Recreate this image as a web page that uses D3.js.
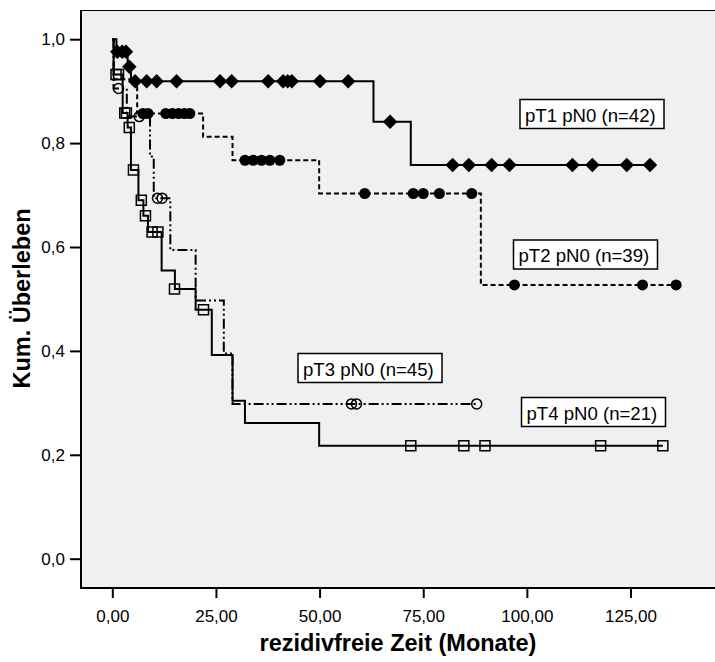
<!DOCTYPE html>
<html>
<head>
<meta charset="utf-8">
<script src="https://cdnjs.cloudflare.com/ajax/libs/d3/7.8.5/d3.min.js"></script>
<style>
	body { margin: 0; background: #fff; }
	text { font-family: Arial, "Liberation Sans", sans-serif; }
</style>
</head>
<body>
<script>

// ticks
var xTicks = [0, 25, 50, 75, 100, 125];
var yTicks = [0, 0.2, 0.4, 0.6, 0.8, 1.0];

// group labels
var groups = ["pT1 pN0 (n=42)", "pT2 pN0 (n=39)", "pT3 pN0 (n=45)", "pT4 pN0 (n=21)"];

// step points [month, survival] for each group
var pt1Steps = [[0, 1.0], [1.0, 0.976], [3.7, 0.947], [4.5, 0.919], [63, 0.841], [72, 0.758]];
var pt2Steps = [[0, 1.0], [0.4, 0.923], [6, 0.857], [21.9, 0.812], [29, 0.767], [49.9, 0.703], [88.9, 0.527]];
var pt3Steps = [[0, 1.0], [0.3, 0.905], [3.5, 0.851], [9.1, 0.774], [10, 0.694], [14, 0.594], [20.1, 0.497],
	[26.9, 0.395], [29, 0.298]];
var pt4Steps = [[0, 1.0], [0.3, 0.932], [2.5, 0.858], [3.7, 0.83], [4.5, 0.748], [6.3, 0.69], [7.5, 0.66],
	[8.6, 0.629], [11.9, 0.555], [15.1, 0.519], [20.1, 0.479], [24, 0.392], [29, 0.304], [32, 0.261], [49.9, 0.2175]];

// censored cases [month, survival]
var pt1Censored = [[1.2, 0.976], [2.4, 0.976], [3.3, 0.976], [4.1, 0.947],
	[5.5, 0.919], [8.3, 0.919], [10.7, 0.919], [15.5, 0.919], [26, 0.919], [28.8, 0.919], [37.6, 0.919],
	[41.2, 0.919], [42.3, 0.919], [43.3, 0.919], [50.1, 0.919], [56.9, 0.919],
	[67, 0.841],
	[82.1, 0.758], [86, 0.758], [91.5, 0.758], [95.8, 0.758], [111, 0.758], [115.8, 0.758], [124.1, 0.758], [129.7, 0.758]];
var pt2Censored = [[7.4, 0.857], [8.6, 0.857], [12.9, 0.857], [14.5, 0.857], [16, 0.857], [17.4, 0.857], [18.7, 0.857],
	[32, 0.767], [34, 0.767], [36, 0.767], [38, 0.767], [40.4, 0.767],
	[60.9, 0.703], [72.6, 0.703], [75, 0.703], [78.9, 0.703], [86.7, 0.703],
	[97, 0.527], [127.9, 0.527], [136, 0.527]];
var pt3Censored = [[1.5, 0.905], [6.5, 0.851], [10.9, 0.694], [12, 0.694],
	[57.7, 0.298], [58.9, 0.298], [87.9, 0.298]];
var pt4Censored = [[0.9, 0.932], [1.5, 0.932], [3.0, 0.858], [3.4, 0.858], [4.1, 0.83], [5.1, 0.748], [7.0, 0.69],
	[8.0, 0.66], [9.6, 0.629], [11.0, 0.629], [15.0, 0.519], [22.0, 0.479],
	[72.0, 0.2175], [84.8, 0.2175], [89.9, 0.2175], [117.8, 0.2175], [132.8, 0.2175]];

// canvas
var width = 715,
	height = 662,
	plot = {left: 81, top: 10, right: 715, bottom: 587};

var svg = d3.select("body").append("svg")
	.attr("width", width)
	.attr("height", height);

var x = d3.scaleLinear().domain([0, 125]).range([112.3, 630.5]),
	y = d3.scaleLinear().domain([0, 1]).range([558.7, 39.2]);

// plot background + frame
svg.append("rect")
	.attr("x", plot.left)
	.attr("y", plot.top)
	.attr("width", plot.right - plot.left)
	.attr("height", plot.bottom - plot.top)
	.attr("fill", "#f0f0f0");

svg.append("line")
	.attr("x1", plot.left).attr("x2", plot.right)
	.attr("y1", plot.top + 0.5).attr("y2", plot.top + 0.5)
	.attr("stroke", "#000").attr("stroke-width", 1);

// series table
var series = [
	{name: groups[0], steps: pt1Steps, censored: pt1Censored, dash: null, marker: "diamond"},
	{name: groups[1], steps: pt2Steps, censored: pt2Censored, dash: "5,3", marker: "dot"},
	{name: groups[2], steps: pt3Steps, censored: pt3Censored, dash: "10,3,2,3,2,3", marker: "ring"},
	{name: groups[3], steps: pt4Steps, censored: pt4Censored, dash: null, marker: "square"}
];

var stepLine = d3.line()
	.x(function(d) { return x(d[0]); })
	.y(function(d) { return y(d[1]); })
	.curve(d3.curveStepAfter);

var diamond = d3.symbol().type(d3.symbolSquare).size(105);
var square = d3.symbol().type(d3.symbolSquare).size(100);

series.forEach(function(s) {
	var last = s.steps[s.steps.length - 1];
	var end = d3.max(s.censored, function(d) { return d[0]; });
	var pts = s.steps.concat([[end, last[1]]]);

	svg.append("path")
		.datum(pts)
		.attr("fill", "none")
		.attr("stroke", "#000")
		.attr("stroke-width", 2)
		.attr("stroke-dasharray", s.dash)
		.attr("d", stepLine);
});

series.forEach(function(s) {
	var g = svg.append("g");
	var m = g.selectAll(".mark")
		.data(s.censored)
		.enter();

	if (s.marker === "diamond") {
		m.append("path")
			.attr("d", diamond)
			.attr("transform", function(d) { return "translate(" + x(d[0]) + "," + y(d[1]) + ") rotate(45)"; })
			.attr("fill", "#000");
	} else if (s.marker === "dot") {
		m.append("circle")
			.attr("cx", function(d) { return x(d[0]); })
			.attr("cy", function(d) { return y(d[1]); })
			.attr("r", 5.5)
			.attr("fill", "#000");
	} else if (s.marker === "ring") {
		m.append("circle")
			.attr("cx", function(d) { return x(d[0]); })
			.attr("cy", function(d) { return y(d[1]); })
			.attr("r", 5)
			.attr("fill", "none")
			.attr("stroke", "#000")
			.attr("stroke-width", 1.5);
	} else {
		m.append("path")
			.attr("d", square)
			.attr("transform", function(d) { return "translate(" + x(d[0]) + "," + y(d[1]) + ")"; })
			.attr("fill", "none")
			.attr("stroke", "#000")
			.attr("stroke-width", 1.5);
	}
});

// group label boxes
var labelBoxes = [
	{x: 520, y: 99.5},
	{x: 513.5, y: 240},
	{x: 298, y: 353.5},
	{x: 521.5, y: 397.5}
];

var lab = svg.selectAll(".lab")
	.data(groups)
	.enter().append("g")
	.attr("class", "lab")
	.attr("transform", function(d, i) { return "translate(" + labelBoxes[i].x + "," + labelBoxes[i].y + ")"; });

lab.append("rect")
	.attr("width", 144)
	.attr("height", 29)
	.attr("fill", "#fff")
	.attr("stroke", "#000")
	.attr("stroke-width", 1.5);

lab.append("text")
	.attr("x", 5)
	.attr("y", 22)
	.attr("font-size", "18.6px")
	.attr("fill", "#000")
	.text(function(d) { return d; });

// axes
var yAxis = svg.append("g")
	.attr("transform", "translate(" + plot.left + ",0)")
	.call(d3.axisLeft(y)
		.tickValues(yTicks)
		.tickSize(11)
		.tickPadding(5)
		.tickFormat(function(d) { return d.toFixed(1).replace(".", ","); }));

var xAxis = svg.append("g")
	.attr("transform", "translate(0," + (plot.bottom + 1) + ")")
	.call(d3.axisBottom(x)
		.tickValues(xTicks)
		.tickSize(10)
		.tickPadding(11.5)
		.tickFormat(function(d) { return d.toFixed(2).replace(".", ","); }));

[yAxis, xAxis].forEach(function(a) {
	a.select(".domain").remove();
	a.selectAll(".tick line").attr("stroke", "#000").attr("stroke-width", 2);
	a.selectAll(".tick text")
		.attr("fill", "#000")
		.style("font-family", "Arial, 'Liberation Sans', sans-serif")
		.style("font-size", "17px");
});

svg.append("line")
	.attr("x1", plot.left).attr("x2", plot.left)
	.attr("y1", plot.top).attr("y2", plot.bottom + 2)
	.attr("stroke", "#000").attr("stroke-width", 2);

svg.append("line")
	.attr("x1", plot.left - 1).attr("x2", plot.right)
	.attr("y1", plot.bottom + 1).attr("y2", plot.bottom + 1)
	.attr("stroke", "#000").attr("stroke-width", 2);

// axis titles
svg.append("text")
	.attr("transform", "translate(30," + ((plot.top + plot.bottom) / 2) + ") rotate(-90)")
	.attr("text-anchor", "middle")
	.attr("font-weight", "bold")
	.attr("font-size", "23.5px")
	.text("Kum. Überleben");

svg.append("text")
	.attr("x", (plot.left + plot.right) / 2)
	.attr("y", 651)
	.attr("text-anchor", "middle")
	.attr("font-weight", "bold")
	.attr("font-size", "23.5px")
	.text("rezidivfreie Zeit (Monate)");

</script>
</body>
</html>
